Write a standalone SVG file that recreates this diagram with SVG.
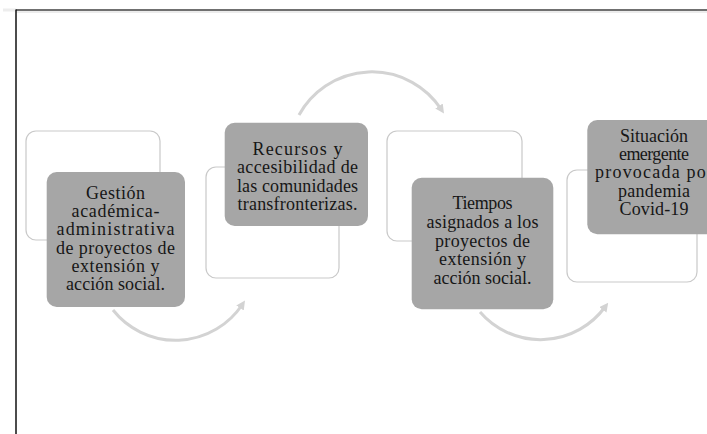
<svg xmlns="http://www.w3.org/2000/svg" width="707" height="434" viewBox="0 0 707 434">
<style>
.outline{fill:#ffffff;stroke:#c9c9c9;stroke-width:1.2}
.card{fill:#a6a6a6;stroke:none}
.lbl{font-family:"Liberation Serif","Times New Roman",serif;font-size:18px;fill:#161616;text-anchor:middle}
.arc{fill:none;stroke:#d3d3d3;stroke-width:3;marker-end:url(#ah)}
</style>
<defs>
<marker id="ah" viewBox="0 0 10 10" refX="4" refY="5" markerWidth="3" markerHeight="3" orient="auto" markerUnits="strokeWidth">
<path d="M0,0 L10,5 L0,10 Z" fill="#d3d3d3"/>
</marker>
</defs>
<rect x="0" y="0" width="707" height="434" fill="#ffffff"/>
<g id="frame">
<rect x="3" y="8.5" width="13" height="3" fill="#ededed"/>
<line x1="16" y1="12" x2="707" y2="12" stroke="#ececec" stroke-width="2"/>
<line x1="16" y1="10" x2="707" y2="10" stroke="#404040" stroke-width="1.6"/>
<line x1="16" y1="9.5" x2="16" y2="434" stroke="#111111" stroke-width="1.5"/>
</g>
<g id="connectors">
<path class="arc" d="M113,310 A80,80 0 0,0 242,305"/>
<path class="arc" d="M299,115 A83,83 0 0,1 441,109"/>
<path class="arc" d="M480,312 A80,80 0 0,0 605,307"/>
</g>
<g id="node1">
<rect class="outline" x="26" y="131" width="134" height="109" rx="10"/>
<rect class="card" x="46.7" y="172" width="138.3" height="135" rx="10"/>
<text class="lbl" x="115.5" y="199" textLength="59" lengthAdjust="spacing">Gestión</text>
<text class="lbl" x="115.5" y="217.2" textLength="88" lengthAdjust="spacing">académica-</text>
<text class="lbl" x="115.5" y="235.4" textLength="118" lengthAdjust="spacing">administrativa</text>
<text class="lbl" x="115.5" y="253.6" textLength="119" lengthAdjust="spacing">de proyectos de</text>
<text class="lbl" x="115.5" y="271.8" textLength="88" lengthAdjust="spacing">extensión y</text>
<text class="lbl" x="115.5" y="290" textLength="99" lengthAdjust="spacing">acción social.</text>
</g>
<g id="node2">
<rect class="outline" x="206" y="167" width="133" height="111" rx="10"/>
<rect class="card" x="224.7" y="122.7" width="143.3" height="103.3" rx="10"/>
<text class="lbl" x="297.5" y="155" textLength="90" lengthAdjust="spacing">Recursos y</text>
<text class="lbl" x="297.5" y="173.3" textLength="121" lengthAdjust="spacing">accesibilidad de</text>
<text class="lbl" x="297.5" y="191.6" textLength="121" lengthAdjust="spacing">las comunidades</text>
<text class="lbl" x="297.5" y="209.9" textLength="120" lengthAdjust="spacing">transfronterizas.</text>
</g>
<g id="node3">
<rect class="outline" x="387" y="131" width="135" height="110" rx="10"/>
<rect class="card" x="411.7" y="177.7" width="141.6" height="131.6" rx="10"/>
<text class="lbl" x="482.5" y="209.3" textLength="60" lengthAdjust="spacing">Tiempos</text>
<text class="lbl" x="482.5" y="228" textLength="112" lengthAdjust="spacing">asignados a los</text>
<text class="lbl" x="482.5" y="246.7" textLength="95" lengthAdjust="spacing">proyectos de</text>
<text class="lbl" x="482.5" y="265.4" textLength="87" lengthAdjust="spacing">extensión y</text>
<text class="lbl" x="482.5" y="284.1" textLength="98" lengthAdjust="spacing">acción social.</text>
</g>
<g id="node4">
<rect class="outline" x="567" y="170" width="130" height="112" rx="10"/>
<rect class="card" x="587.3" y="120" width="134" height="114.3" rx="10"/>
<text class="lbl" x="654" y="141.7" textLength="68" lengthAdjust="spacing">Situación</text>
<text class="lbl" x="654" y="160" textLength="70" lengthAdjust="spacing">emergente</text>
<text class="lbl" x="654" y="178.3" textLength="118" lengthAdjust="spacing">provocada por</text>
<text class="lbl" x="654" y="196.6" textLength="72" lengthAdjust="spacing">pandemia</text>
<text class="lbl" x="654" y="214.9" textLength="69" lengthAdjust="spacing">Covid-19</text>
</g>
</svg>
